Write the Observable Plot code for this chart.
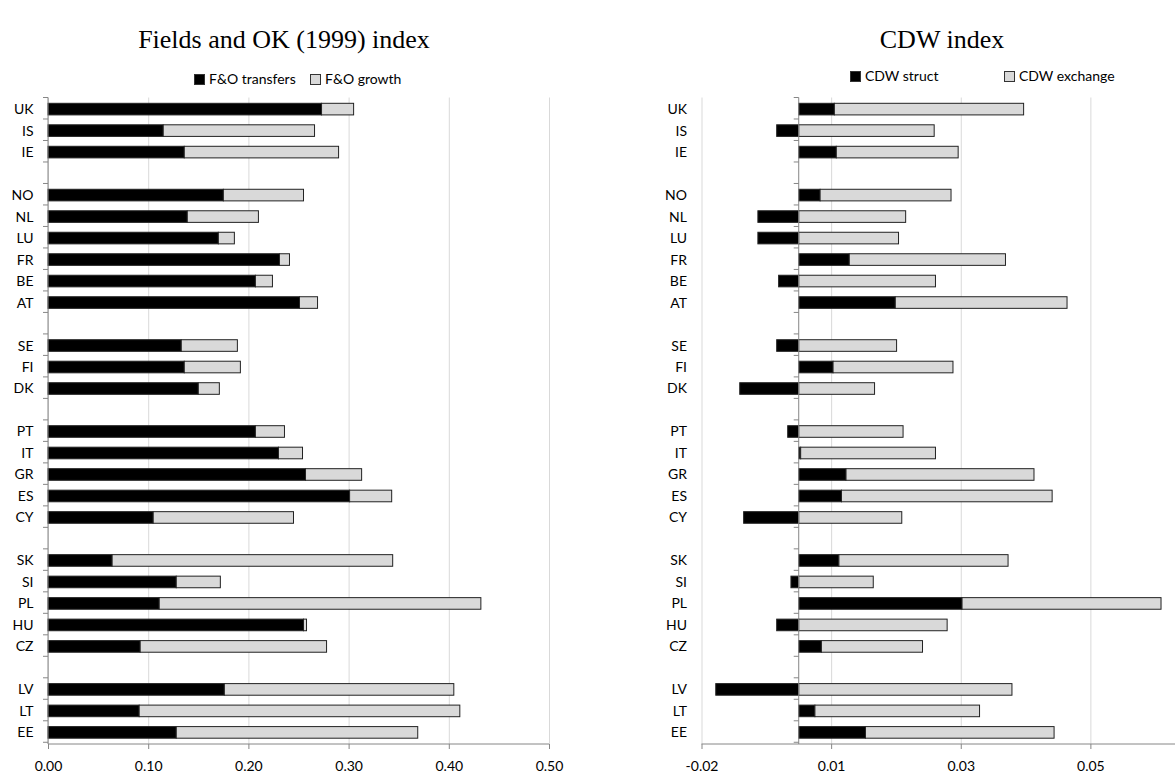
<!DOCTYPE html>
<html><head><meta charset="utf-8">
<script src="https://cdn.jsdelivr.net/npm/d3@7"></script>
<script src="https://cdn.jsdelivr.net/npm/@observablehq/plot@0.6"></script>
<style>
html,body{margin:0;padding:0;background:#fff;overflow:hidden;}
#page{position:relative;width:1175px;height:775px;overflow:hidden;font-family:Lato,"Open Sans",sans-serif;color:#000;}
.title{position:absolute;font-family:"Liberation Serif","Times New Roman",serif;font-size:26px;white-space:nowrap;transform:translate(-50%,-50%);line-height:1;}
.legend{position:absolute;font-size:14px;display:flex;align-items:center;white-space:nowrap;transform:translateY(-50%);line-height:1;}
.sw{display:inline-block;width:9px;height:9px;border:1px solid #333;margin-right:4px;box-sizing:content-box;}
.panel{position:absolute;top:0;}
.panel svg{max-width:none !important;}
</style></head><body><div id="page"></div>
<script>
// ---- data ----
const categories = ["UK","IS","IE","gap1","NO","NL","LU","FR","BE","AT","gap2","SE","FI","DK","gap3","PT","IT","GR","ES","CY","gap4","SK","SI","PL","HU","CZ","gap5","LV","LT","EE"];
const countries = ["UK","IS","IE","NO","NL","LU","FR","BE","AT","SE","FI","DK","PT","IT","GR","ES","CY","SK","SI","PL","HU","CZ","LV","LT","EE"];
const foSeries = ["F&O transfers","F&O growth"];
const foTransfers = [0.273,0.115,0.136,0.175,0.139,0.170,0.231,0.207,0.251,0.133,0.136,0.150,0.207,0.230,0.257,0.301,0.105,0.064,0.128,0.111,0.255,0.092,0.176,0.091,0.128];
const foGrowth    = [0.032,0.151,0.154,0.080,0.071,0.016,0.010,0.017,0.018,0.056,0.056,0.021,0.029,0.024,0.056,0.042,0.140,0.280,0.044,0.321,0.003,0.186,0.229,0.320,0.241];
const cdwSeries = ["CDW struct","CDW exchange"];
const cdwStruct   = [0.0055,-0.0034,0.0058,0.0033,-0.0063,-0.0063,0.0078,-0.0031,0.0149,-0.0034,0.0053,-0.0091,-0.0017,0.0003,0.0073,0.0066,-0.0085,0.0062,-0.0012,0.0252,-0.0034,0.0035,-0.0128,0.0025,0.0103];
const cdwExchange = [0.0292,0.0209,0.0188,0.0202,0.0165,0.0154,0.0241,0.0211,0.0265,0.0151,0.0185,0.0117,0.0161,0.0208,0.0290,0.0325,0.0159,0.0261,0.0115,0.0307,0.0229,0.0156,0.0329,0.0254,0.0291];
const foTicks = [0,0.1,0.2,0.3,0.4,0.5];
const foTickLabels = ["0.00","0.10","0.20","0.30","0.40","0.50"];
const cdwGrid = [-0.015,0.005,0.025,0.045,0.065];
const cdwTicks = [-0.015,0.005,0.025,0.045];
const cdwTickLabels = ["-0.02","0.01","0.03","0.05"];

const colors = ["#000000","#d9d9d9"];
const axisColor = "#868686";
const gridColor = "#d9d9d9";

const foData = countries.flatMap((c,i)=>[
  {country:c, series:foSeries[0], value:foTransfers[i]},
  {country:c, series:foSeries[1], value:foGrowth[i]}]);
const cdwData = countries.flatMap((c,i)=>[
  {country:c, series:cdwSeries[0], value:cdwStruct[i]},
  {country:c, series:cdwSeries[1], value:cdwExchange[i]}]);

// Excel-like axis lines: bottom axis line + category axis at a given x with boundary ticks
function excelAxes(xAt, xDomain) {
  return (index, scales, values, dims) => {
    const x = scales.x, y = scales.y;
    const step = y(categories[1]) - y(categories[0]);
    const top = dims.marginTop, bottom = dims.height - dims.marginBottom;
    const x0 = x(xAt);
    const g = d3.create("svg:g").attr("stroke", axisColor).attr("stroke-width", 1).attr("fill", "none");
    g.append("line").attr("x1", x(xDomain[0])).attr("x2", x(xDomain[1])).attr("y1", bottom).attr("y2", bottom);
    g.append("line").attr("x1", x0).attr("x2", x0).attr("y1", top).attr("y2", bottom);
    for (let k = 0; k <= categories.length; k++) {
      const yy = top + k * step;
      g.append("line").attr("x1", x0 - 5).attr("x2", x0).attr("y1", yy).attr("y2", yy);
    }
    return g.node();
  };
}

function makeChart({data, series, domain, grid, ticks, tickLabels, width, marginLeft, marginRight, zeroAt}) {
  const fmt = d => tickLabels[ticks.indexOf(d)] ?? "";
  return Plot.plot({
    width, height: 775,
    marginTop: 97.5, marginBottom: 31, marginLeft, marginRight,
    style: {fontFamily: "Lato, 'Open Sans', sans-serif", fontSize: "14px", color: "#000", background: "transparent", overflow: "visible", maxWidth: "none"},
    x: {domain, axis: null, label: null},
    y: {domain: categories, paddingInner: 0.46, paddingOuter: 0.27, round: false, axis: null, label: null},
    color: {domain: series, range: colors},
    marks: [
      Plot.gridX(grid, {stroke: gridColor, strokeOpacity: 1, strokeWidth: 1}),
      Plot.barX(data, Plot.stackX({y: "country", x: "value", fill: "series", stroke: "#222", strokeWidth: 1})),
      excelAxes(zeroAt, domain),
      Plot.axisX(ticks, {anchor: "bottom", label: null, tickSize: 5, tickPadding: 12, stroke: axisColor, tickFormat: fmt, fontSize: 14, fill: "#000"}),
      Plot.axisY({anchor: "left", label: null, tickSize: 0, tickPadding: 15, tickFormat: d => d.startsWith("gap") ? "" : d, fontSize: 14, fill: "#000"})
    ]
  });
}

const page = document.getElementById("page");

function addPanel(svg, left, width) {
  const d = document.createElement("div");
  d.className = "panel"; d.style.left = left + "px"; d.style.width = width + "px";
  d.appendChild(svg); page.appendChild(d);
}

addPanel(makeChart({data: foData, series: foSeries, domain: [0, 0.5], grid: foTicks, ticks: foTicks, tickLabels: foTickLabels,
  width: 600, marginLeft: 48, marginRight: 51, zeroAt: 0}), 0, 600);
addPanel(makeChart({data: cdwData, series: cdwSeries, domain: [-0.015, 0.065], grid: cdwGrid, ticks: cdwTicks, tickLabels: cdwTickLabels,
  width: 660, marginLeft: 101.5, marginRight: 40, zeroAt: 0}), 600, 660);

function addTitle(text, cx, cy) {
  const t = document.createElement("div");
  t.className = "title"; t.textContent = text;
  t.style.left = cx + "px"; t.style.top = cy + "px";
  page.appendChild(t);
}
addTitle("Fields and OK (1999) index", 284, 40);
addTitle("CDW index", 942, 40);

function addLegendItem(label, color, x, y) {
  const l = document.createElement("div");
  l.className = "legend"; l.style.left = x + "px"; l.style.top = y + "px";
  const s = document.createElement("span"); s.className = "sw"; s.style.background = color;
  const t = document.createElement("span"); t.textContent = label;
  l.appendChild(s); l.appendChild(t); page.appendChild(l);
}
addLegendItem(foSeries[0], colors[0], 194, 79);
addLegendItem(foSeries[1], colors[1], 310, 79);
addLegendItem(cdwSeries[0], colors[0], 850, 76);
addLegendItem(cdwSeries[1], colors[1], 1004, 76);
</script></body></html>
